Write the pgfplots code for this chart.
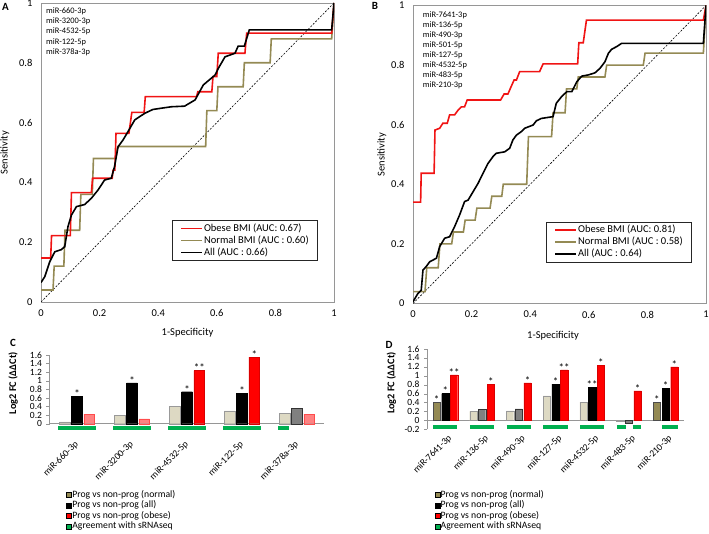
\documentclass[border=0pt]{standalone}
\usepackage{pgfplots}
\pgfplotsset{compat=1.18}
\usepackage{fontspec}
\setmainfont{Carlito}

\definecolor{rocred}{RGB}{240,20,20}
\definecolor{roctan}{RGB}{148,138,84}
\definecolor{tanS}{RGB}{148,138,84}
\definecolor{tanL}{RGB}{221,217,195}
\definecolor{redL}{RGB}{255,130,130}
\definecolor{barred}{RGB}{255,0,0}
\definecolor{grayB}{RGB}{128,128,128}
\definecolor{agree}{RGB}{0,176,80}
\definecolor{framegray}{RGB}{150,150,150}

\pgfplotsset{
  rocaxis/.style={
    scale only axis, width=293pt, anchor=south west,
    xmin=0, xmax=1, ymin=0, ymax=1,
    xtick={0,0.2,0.4,0.6,0.8,1}, ytick={0,0.2,0.4,0.6,0.8,1},
    major tick length=0pt,
    axis line style={framegray},
    /pgf/number format/assume math mode=true,
    tick label style={font=\fontsize{10.5}{12}\selectfont},
    yticklabel style={xshift=-5pt},
    xticklabel style={yshift=-4pt},
    label style={font=\fontsize{10.5}{12}\selectfont},
    xlabel={1-Specificity}, ylabel={Sensitivity},
    legend image code/.code={\draw[#1] (0pt,0pt) -- (21pt,0pt);},
    legend cell align=left,
    legend style={anchor=north west, draw=black!85, line width=0.9pt,
      inner xsep=8pt, inner ysep=2pt,
      font=\fontsize{10.5}{12}\selectfont,
      nodes={inner sep=1pt, text height=7.5pt, text depth=2.5pt},
      /tikz/every even column/.append style={column sep=1pt}},
  },
  roc/.style={line width=1.6pt, forget plot},
  barchart/.style={
    scale only axis, anchor=south west, clip=false,
    axis x line=bottom, axis y line=left,
    axis line style={-, framegray, line width=0.7pt},
    x tick style={draw=none},
    y tick style={framegray},
    tick align=outside, major tick length=3pt,
    /pgf/number format/assume math mode=true,
    yticklabel style={font=\fontsize{9.5}{11}\selectfont, xshift=-1pt},
    ylabel={Log2 FC (ΔΔCt)},
    ylabel style={font=\bfseries\fontsize{10.3}{12}\selectfont, anchor=center},
    legend image code/.code={\fill[#1] (0pt,-2.5pt) rectangle (5pt,2.5pt);},
    legend cell align=left,
    legend style={anchor=north west, draw=none, fill=none,
      font=\fontsize{9.7}{10}\selectfont,
      nodes={inner sep=0.5pt, text height=7pt, text depth=2.5pt},
      /tikz/every even column/.append style={column sep=1pt}},
  },
  stars/.style={nodes near coords, point meta=explicit symbolic,
    every node near coord/.append style={font=\fontsize{11}{11}\selectfont, inner sep=0.5pt, yshift=-2pt, black}},
}

\begin{document}
\begin{tikzpicture}
\useasboundingbox (0pt,0pt) rectangle (709pt,533pt);

% ---------------- A
\begin{axis}[rocaxis, at={(41pt,231pt)}, height=299pt,
  legend style={at={(axis description cs:0.447,0.274)}},
  ylabel style={at={(axis description cs:-0.123,0.5)}, anchor=center},
  xlabel style={at={(axis description cs:0.5,-0.104)}, anchor=center}]
\addlegendimage{rocred, line width=1.6pt}
\addlegendentry{Obese BMI (AUC: 0.67)}
\addlegendimage{roctan, line width=1.6pt}
\addlegendentry{Normal BMI (AUC : 0.60)}
\addlegendimage{black, line width=1.6pt}
\addlegendentry{All (AUC : 0.66)}
\addplot[black, line width=0.6pt, dash pattern=on 2pt off 1.5pt, forget plot] coordinates {(0,0) (1,1)};
\addplot[roc, roctan] table {
0 0.04
0.041 0.04
0.045 0.12
0.078 0.12
0.082 0.24
0.132 0.24
0.136 0.36
0.175 0.36
0.179 0.48
0.254 0.48
0.262 0.52
0.562 0.52
0.566 0.64
0.600 0.64
0.604 0.72
0.690 0.72
0.694 0.80
0.782 0.80
0.786 0.88
0.992 0.88
1 1
};
\addplot[roc, rocred] table {
0 0.147
0.033 0.147
0.036 0.222
0.100 0.222
0.104 0.366
0.172 0.366
0.176 0.414
0.243 0.414
0.246 0.441
0.252 0.441
0.256 0.564
0.300 0.564
0.310 0.634
0.352 0.634
0.356 0.687
0.531 0.687
0.535 0.703
0.583 0.703
0.587 0.754
0.600 0.754
0.605 0.832
0.696 0.832
0.702 0.899
0.992 0.899
1 1
};
\addplot[roc, black] table {
0 0.065
0.013 0.085
0.030 0.135
0.047 0.168
0.069 0.175
0.081 0.185
0.092 0.252
0.104 0.291
0.121 0.319
0.149 0.326
0.172 0.347
0.195 0.375
0.217 0.408
0.240 0.414
0.251 0.453
0.263 0.519
0.280 0.542
0.297 0.570
0.320 0.609
0.354 0.631
0.382 0.644
0.445 0.653
0.490 0.655
0.526 0.676
0.554 0.726
0.594 0.759
0.605 0.781
0.628 0.820
0.662 0.832
0.673 0.856
0.694 0.856
0.711 0.910
0.992 0.910
1 1
};
\node[anchor=north west, align=left, inner sep=0pt, font=\fontsize{8.4}{10.2}\selectfont]
  at (axis description cs:0.017,0.985)
  {miR-660-3p\\miR-3200-3p\\miR-4532-5p\\miR-122-5p\\miR-378a-3p};
\end{axis}

% ---------------- B
\begin{axis}[rocaxis, at={(413pt,229.5pt)}, height=298pt,
  legend style={at={(axis description cs:0.454,0.274)}},
  ylabel style={at={(axis description cs:-0.106,0.5)}, anchor=center},
  xlabel style={at={(axis description cs:0.478,-0.107)}, anchor=center}]
\addlegendimage{rocred, line width=1.6pt}
\addlegendentry{Obese BMI (AUC: 0.81)}
\addlegendimage{roctan, line width=1.6pt}
\addlegendentry{Normal BMI (AUC : 0.58)}
\addlegendimage{black, line width=1.6pt}
\addlegendentry{All (AUC : 0.64)}
\addplot[black, line width=0.6pt, dash pattern=on 2pt off 1.5pt, forget plot] coordinates {(0,0) (1,1)};
\addplot[roc, roctan] table {
0 0.04
0.041 0.04
0.047 0.12
0.086 0.12
0.092 0.20
0.132 0.20
0.138 0.24
0.172 0.24
0.178 0.28
0.212 0.28
0.218 0.32
0.263 0.32
0.269 0.36
0.303 0.36
0.308 0.40
0.388 0.40
0.394 0.56
0.473 0.56
0.478 0.64
0.519 0.64
0.524 0.72
0.559 0.72
0.564 0.76
0.655 0.76
0.661 0.80
0.786 0.80
0.792 0.84
0.991 0.84
1 1
};
\addplot[roc, rocred] table {
0 0.34
0.026 0.34
0.028 0.437
0.072 0.437
0.075 0.582
0.091 0.588
0.102 0.605
0.117 0.605
0.125 0.633
0.142 0.633
0.154 0.649
0.165 0.660
0.176 0.660
0.185 0.683
0.299 0.683
0.311 0.703
0.324 0.703
0.335 0.728
0.345 0.750
0.353 0.750
0.364 0.778
0.432 0.778
0.444 0.804
0.562 0.804
0.566 0.875
0.581 0.875
0.592 0.951
0.991 0.951
1 1
};
\addplot[roc, black] table {
0 0.006
0.017 0.034
0.028 0.044
0.034 0.112
0.045 0.124
0.057 0.140
0.080 0.152
0.091 0.191
0.108 0.219
0.125 0.224
0.142 0.258
0.159 0.297
0.176 0.342
0.188 0.347
0.205 0.375
0.222 0.403
0.239 0.437
0.256 0.470
0.273 0.493
0.284 0.504
0.313 0.509
0.330 0.521
0.341 0.549
0.353 0.565
0.370 0.577
0.381 0.588
0.410 0.599
0.421 0.613
0.438 0.621
0.478 0.627
0.489 0.672
0.507 0.694
0.525 0.711
0.542 0.711
0.559 0.744
0.576 0.763
0.598 0.767
0.621 0.774
0.638 0.789
0.655 0.811
0.667 0.840
0.678 0.853
0.695 0.862
0.712 0.873
0.991 0.873
1 1
};
\node[anchor=north west, align=left, inner sep=0pt, font=\fontsize{8.4}{10}\selectfont]
  at (axis description cs:0.033,0.98)
  {miR-7641-3p\\miR-136-5p\\miR-490-3p\\miR-501-5p\\miR-127-5p\\miR-4532-5p\\miR-483-5p\\miR-210-3p};
\end{axis}

% ---------------- C
\begin{axis}[barchart, at={(49.5pt,109.3pt)}, width=275pt, height=68.7pt,
  xmin=-0.5, xmax=4.5, ymin=0, ymax=1.6,
  ytick={0,0.2,0.4,0.6,0.8,1,1.2,1.4,1.6},
  xtick={0,1,2,3,4},
  xticklabels={miR-660-3p,miR-3200-3p,miR-4532-5p,miR-122-5p,miR-378a-3p},
  x tick label style={xshift=-3pt, yshift=-12pt, rotate=45, anchor=north east, inner sep=1pt, font=\fontsize{9.5}{11}\selectfont},
  ylabel style={at={(axis description cs:-0.132,0.59)}},
  legend style={at={(axis description cs:0.05,-0.93)}}]
\addlegendimage{fill=tanS}
\addlegendentry{Prog vs non-prog (normal)}
\addlegendimage{fill=black}
\addlegendentry{Prog vs non-prog (all)}
\addlegendimage{fill=barred}
\addlegendentry{Prog vs non-prog (obese)}
\addlegendimage{fill=agree}
\addlegendentry{Agreement with sRNAseq}
% normal (all non-significant)
\addplot[ybar, bar width=10.7pt, bar shift=0pt, fill=tanL, draw=black!40, forget plot]
  coordinates {(-0.224,0.04) (0.776,0.19) (1.776,0.41) (2.776,0.30) (3.776,0.24)};
% all
\addplot[ybar, bar width=10.7pt, bar shift=0pt, fill=black, draw=black, stars, forget plot]
  coordinates {(0,0.645) [*] (1,0.95) [*] (2,0.745) [*] (3,0.70) [*]};
\addplot[ybar, bar width=10.7pt, bar shift=0pt, fill=grayB, draw=black!80, forget plot]
  coordinates {(4,0.35)};
% obese
\addplot[ybar, bar width=10.7pt, bar shift=0pt, fill=barred, draw=red!85!black, stars, forget plot]
  coordinates {(2.224,1.235) [**] (3.224,1.55) [*]};
\addplot[ybar, bar width=10.7pt, bar shift=0pt, fill=redL, draw=red!70, forget plot]
  coordinates {(0.224,0.225) (1.224,0.115) (4.224,0.225)};
% agreement with sRNAseq
\addplot[agree, line width=3.7pt, forget plot] coordinates {(-0.345,-0.1) (0.345,-0.1)};
\addplot[agree, line width=3.7pt, forget plot] coordinates {(0.655,-0.1) (1.345,-0.1)};
\addplot[agree, line width=3.7pt, forget plot] coordinates {(1.655,-0.1) (2.345,-0.1)};
\addplot[agree, line width=3.7pt, forget plot] coordinates {(2.655,-0.1) (3.345,-0.1)};
\addplot[agree, line width=3.7pt, forget plot] coordinates {(3.655,-0.1) (3.855,-0.1)};
\end{axis}

% ---------------- D
\begin{axis}[barchart, at={(427pt,103.7pt)}, width=257pt, height=80.3pt,
  xmin=-0.5, xmax=6.5, ymin=-0.2, ymax=1.6,
  x axis line style={draw=none},
  ytick={-0.2,0,0.2,0.4,0.6,0.8,1,1.2,1.4,1.6},
  xtick={0,1,2,3,4,5,6},
  xticklabels={miR-7641-3p,miR-136-5p,miR-490-3p,miR-127-5p,miR-4532-5p,miR-483-5p,miR-210-3p},
  x tick label style={xshift=2pt, yshift=0pt, rotate=45, anchor=north east, inner sep=1pt, font=\fontsize{9.5}{11}\selectfont},
  ylabel style={at={(axis description cs:-0.138,0.577)}},
  legend style={at={(axis description cs:0.018,-0.725)}}]
\addlegendimage{fill=tanS}
\addlegendentry{Prog vs non-prog (normal)}
\addlegendimage{fill=black}
\addlegendentry{Prog vs non-prog (all)}
\addlegendimage{fill=barred}
\addlegendentry{Prog vs non-prog (obese)}
\addlegendimage{fill=agree}
\addlegendentry{Agreement with sRNAseq}
\addplot[framegray, line width=0.7pt, forget plot] coordinates {(-0.5,0) (6.5,0)};
% normal
\addplot[ybar, bar width=7.3pt, bar shift=0pt, fill=tanS, draw=black!70, stars, forget plot]
  coordinates {(-0.237,0.40) [*] (5.763,0.40) [*]};
\addplot[ybar, bar width=7.3pt, bar shift=0pt, fill=tanL, draw=black!40, forget plot]
  coordinates {(0.763,0.20) (1.763,0.215) (2.763,0.55) (3.763,0.41) (4.763,-0.02)};
% all
\addplot[ybar, bar width=7.3pt, bar shift=0pt, fill=black, draw=black, stars, forget plot]
  coordinates {(0,0.60) [*] (3,0.81) [*] (4,0.74) [**] (6,0.72) [*]};
\addplot[ybar, bar width=7.3pt, bar shift=0pt, fill=grayB, draw=black!80, forget plot]
  coordinates {(1,0.24) (2,0.26) (5,-0.06)};
% obese
\addplot[ybar, bar width=7.3pt, bar shift=0pt, fill=barred, draw=red!85!black, stars, forget plot]
  coordinates {(0.237,1.02) [**] (1.237,0.80) [*] (2.237,0.84) [*] (3.237,1.13) [**] (4.237,1.23) [*] (5.237,0.66) [*] (6.237,1.20) [*]};
% agreement with sRNAseq
\addplot[agree, line width=4pt, forget plot] coordinates {(-0.33,-0.155) (0.33,-0.155)};
\addplot[agree, line width=4pt, forget plot] coordinates {(0.67,-0.155) (1.33,-0.155)};
\addplot[agree, line width=4pt, forget plot] coordinates {(1.67,-0.155) (2.33,-0.155)};
\addplot[agree, line width=4pt, forget plot] coordinates {(2.67,-0.155) (3.33,-0.155)};
\addplot[agree, line width=4pt, forget plot] coordinates {(3.67,-0.155) (4.33,-0.155)};
\addplot[agree, line width=4pt, forget plot] coordinates {(4.67,-0.155) (4.92,-0.155)};
\addplot[agree, line width=4pt, forget plot] coordinates {(5.10,-0.155) (5.33,-0.155)};
\addplot[agree, line width=4pt, forget plot] coordinates {(5.90,-0.155) (6.33,-0.155)};
\end{axis}

% panel letters
\node[font=\bfseries\fontsize{11}{12}\selectfont] at (5.5pt,525.7pt) {A};
\node[font=\bfseries\fontsize{11}{12}\selectfont] at (375pt,526.7pt) {B};
\node[font=\bfseries\fontsize{11}{12}\selectfont] at (13pt,190pt) {C};
\node[font=\bfseries\fontsize{11}{12}\selectfont] at (389pt,188pt) {D};
\end{tikzpicture}
\end{document}
